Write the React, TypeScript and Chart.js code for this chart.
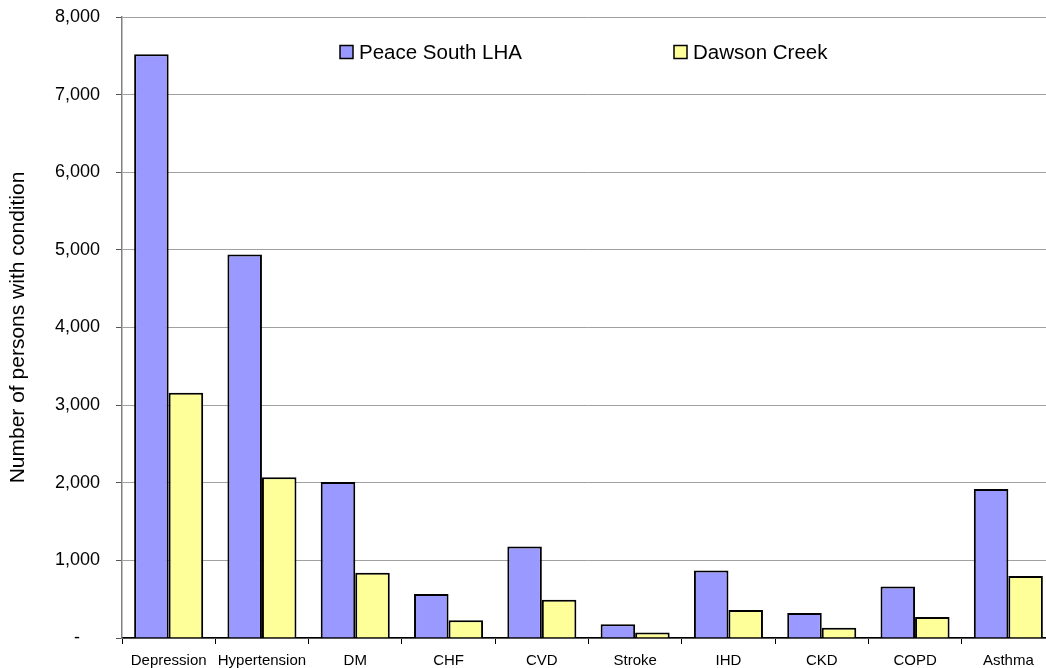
import React, { useEffect, useRef } from "react";
import { Chart, registerables } from "chart.js";

Chart.register(...registerables);

const categories = ["Depression", "Hypertension", "DM", "CHF", "CVD", "Stroke", "IHD", "CKD", "COPD", "Asthma"];
const peaceSouth = [7520, 4940, 2010, 566, 1180, 178, 869, 321, 662, 1920];
const dawsonCreek = [3160, 2070, 840, 230, 494, 71, 360, 132, 269, 800];
const seriesNames = ["Peace South LHA", "Dawson Creek"];
const yTicks = [0, 1000, 2000, 3000, 4000, 5000, 6000, 7000, 8000];

const FONT = "'Liberation Sans', Arial, sans-serif";

const legendPlugin = {
  id: "customLegend",
  afterDraw(chart: any) {
    const ctx = chart.ctx;
    const items = [
      { x: 340, ds: chart.data.datasets[0] },
      { x: 674, ds: chart.data.datasets[1] },
    ];
    ctx.save();
    ctx.font = `20.5px ${FONT}`;
    ctx.textBaseline = "middle";
    ctx.textAlign = "left";
    items.forEach((it) => {
      ctx.fillStyle = it.ds.backgroundColor;
      ctx.fillRect(it.x, 45.5, 13, 13);
      ctx.strokeStyle = "#000";
      ctx.lineWidth = 1.5;
      ctx.strokeRect(it.x, 45.5, 13, 13);
      ctx.fillStyle = "#000";
      ctx.fillText(it.ds.label, it.x + 19, 53);
    });
    ctx.restore();
  },
};

export default function App() {
  const ref = useRef<HTMLCanvasElement | null>(null);
  useEffect(() => {
    if (!ref.current) return;
    const chart = new Chart(ref.current, {
      type: "bar",
      data: {
        labels: categories,
        datasets: [
          {
            label: seriesNames[0],
            data: peaceSouth,
            backgroundColor: "#9999FF",
            borderColor: "#000000",
            borderWidth: 2,
            categoryPercentage: 0.74,
            barPercentage: 1,
          },
          {
            label: seriesNames[1],
            data: dawsonCreek,
            backgroundColor: "#FFFF99",
            borderColor: "#000000",
            borderWidth: 2,
            categoryPercentage: 0.74,
            barPercentage: 1,
          },
        ],
      },
      options: {
        responsive: false,
        animation: false,
        layout: { padding: { top: 17, right: 3, left: 0, bottom: 0 } },
        plugins: {
          legend: { display: false },
          tooltip: { enabled: false },
        },
        scales: {
          x: {
            offset: true,
            grid: {
              offset: true,
              drawOnChartArea: false,
              drawTicks: true,
              tickLength: 6,
              color: "#000000",
            },
            border: { display: true, color: "#000000", width: 1.5 },
            ticks: {
              color: "#000000",
              font: { family: FONT, size: 15 },
              padding: 8,
              maxRotation: 0,
              autoSkip: false,
            },
            afterFit: (s: any) => {
              s.height = 30;
            },
          },
          y: {
            min: 0,
            max: 8000,
            afterBuildTicks: (s: any) => {
              s.ticks = yTicks.map((v) => ({ value: v }));
            },
            grid: {
              color: "#A0A0A0",
              lineWidth: 1,
              drawTicks: true,
              tickLength: 6,
              tickColor: "#555555",
            },
            border: { display: true, color: "#808080", width: 1.5 },
            ticks: {
              color: "#000000",
              font: { family: FONT, size: 18 },
              padding: 16,
              callback: (v: any) => (Number(v) === 0 ? "-    " : Number(v).toLocaleString("en-US")),
            },
            title: {
              display: true,
              text: "Number of persons with condition",
              color: "#000000",
              font: { family: FONT, size: 21 },
              padding: { top: 6, bottom: 0 },
            },
            afterFit: (s: any) => {
              s.width = 122;
              s.paddingTop = 0;
              s.paddingBottom = 0;
            },
          },
        },
      },
      plugins: [legendPlugin],
    });
    return () => chart.destroy();
  }, []);
  return (
    <div
      style={{
        position: "fixed",
        left: 0,
        top: 0,
        width: 1046,
        height: 668,
        overflow: "hidden",
        background: "#fff",
      }}
    >
      <canvas ref={ref} width={1058} height={668} style={{ display: "block" }} />
    </div>
  );
}
